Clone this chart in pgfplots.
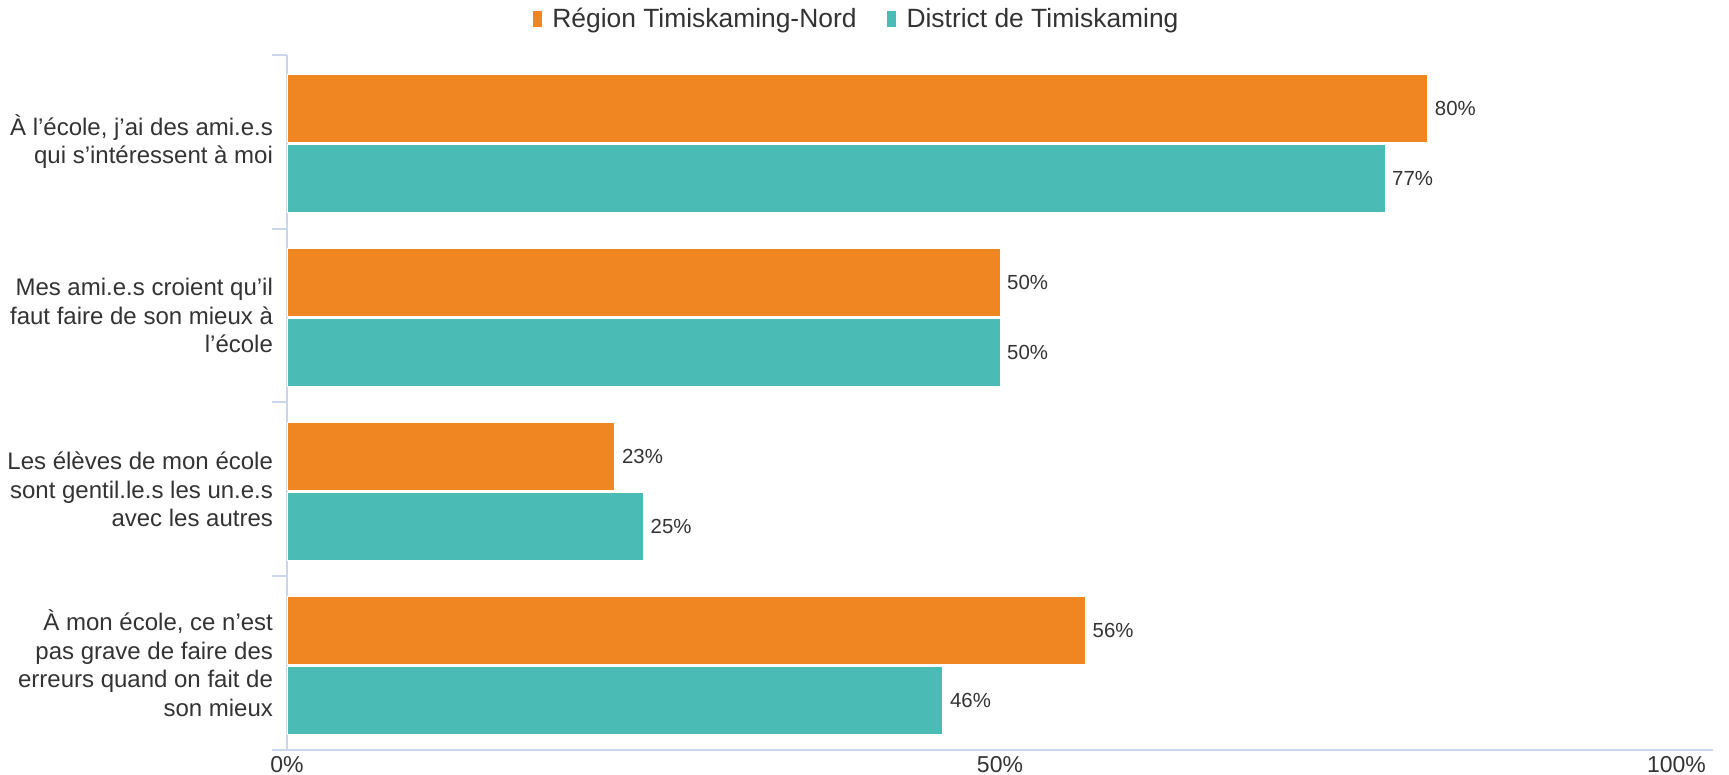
\documentclass[border=0pt]{standalone}
\usepackage{fontspec}
\setmainfont{Liberation Sans}
\usepackage{pgfplots}
\pgfplotsset{compat=1.18}
\definecolor{orangeR}{RGB}{240,134,34}
\definecolor{tealD}{RGB}{75,187,181}
\definecolor{axisc}{RGB}{204,214,235}
\definecolor{txt}{RGB}{51,51,51}
\begin{document}
\begin{tikzpicture}
\begin{axis}[
  at={(143.5pt,12.5pt)}, anchor=south west,
  scale only axis, width=713pt, height=347.5pt,
  xbar, bar width=34pt,
  xmin=0, xmax=100, ymin=-0.5, ymax=3.5,
  /pgf/number format/assume math mode=true,
  axis x line*=bottom, axis y line*=left,
  axis line style={draw=axisc, line width=1pt},
  xtick={0,50}, xticklabels={0\%,50\%},
  extra x ticks={100}, extra x tick labels={100\%},
  extra x tick style={xticklabel style={anchor=north east}},
  xtick style={draw=none},
  xticklabel style={font=\fontsize{11.5}{13}\selectfont, text=txt, yshift=8pt},
  ytick={-0.5,0.5,1.5,2.5,3.5},
  y tick label as interval,
  yticklabels={
    {À mon école, ce n’est\\pas grave de faire des\\erreurs quand on fait de\\son mieux},
    {Les élèves de mon école\\sont gentil.le.s les un.e.s\\avec les autres},
    {Mes ami.e.s croient qu’il\\faut faire de son mieux à\\l’école},
    {À l’école, j’ai des ami.e.s\\qui s’intéressent à moi}},
  yticklabel style={align=right, font=\fontsize{12}{14.2}\selectfont, text=txt, xshift=4pt},
  ytick style={draw=axisc, line width=1pt},
  tick align=outside, major tick length=7.5pt,
  point meta=x,
  nodes near coords={\pgfmathprintnumber{\pgfplotspointmeta}\%},
  nodes near coords style={font=\fontsize{10.2}{12}\selectfont, text=txt},
  legend style={draw=none, at={(0.4,1)}, anchor=center, yshift=18pt,
    legend columns=-1, font=\fontsize{13.2}{15}\selectfont, text=txt,
    /tikz/every even column/.append style={column sep=13pt}},
  legend image code/.code={\path (0pt,0pt) -- (7.5pt,0pt); \fill[#1, draw=none] (0pt,-4pt) rectangle (4.5pt,4pt);},
]
\addplot[fill=orangeR, draw=white, line width=0.5pt, bar shift=16.5pt] coordinates {(80,3) (50,2) (23,1) (56,0)};
\addplot[fill=tealD, draw=white, line width=0.5pt, bar shift=-18.5pt] coordinates {(77,3) (50,2) (25,1) (46,0)};
\legend{Région Timiskaming-Nord, District de Timiskaming}
\end{axis}
\pgfresetboundingbox
\path[use as bounding box] (0,0) rectangle (864.5pt,387.5pt);
\end{tikzpicture}
\end{document}
